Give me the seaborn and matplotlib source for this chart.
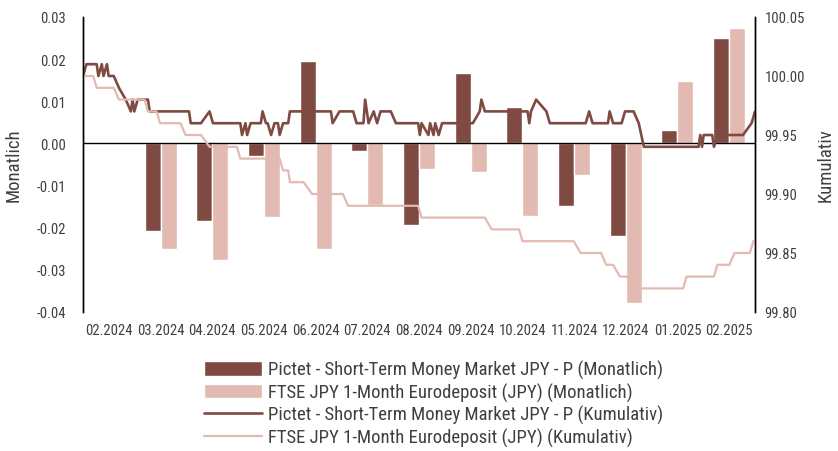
import numpy as np
import pandas as pd
import seaborn as sns
import matplotlib.pyplot as plt
from matplotlib import font_manager

# ~~~~~~~~ Data ~~~~~~~~
months = ["02.2024", "03.2024", "04.2024", "05.2024", "06.2024", "07.2024", "08.2024",
          "09.2024", "10.2024", "11.2024", "12.2024", "01.2025", "02.2025"]

fund_name = "Pictet - Short-Term Money Market JPY - P"
bench_name = "FTSE JPY 1-Month Eurodeposit (JPY)"

fund_monthly = [np.nan, -0.0208, -0.0184, -0.0031, 0.0196, -0.0017, -0.0194,
                0.0168, 0.0087, -0.0149, -0.0220, 0.0033, 0.0250]
bench_monthly = [np.nan, -0.0250, -0.0277, -0.0175, -0.0250, -0.0147, -0.0061,
                 -0.0067, -0.0173, -0.0075, -0.0378, 0.0149, 0.0274]

fund_dates = ["2024-02-01", "2024-02-03", "2024-02-09", "2024-02-10", "2024-02-12", "2024-02-13",
              "2024-02-15", "2024-02-16", "2024-02-19", "2024-02-22", "2024-02-26", "2024-02-29",
              "2024-03-01", "2024-03-02", "2024-03-04", "2024-03-10", "2024-03-11", "2024-04-03",
              "2024-04-04", "2024-04-10", "2024-04-15", "2024-04-17", "2024-05-03", "2024-05-04",
              "2024-05-06", "2024-05-07", "2024-05-09", "2024-05-15", "2024-05-16", "2024-05-18",
              "2024-05-19", "2024-05-21", "2024-05-23", "2024-05-25", "2024-05-26", "2024-05-28",
              "2024-05-31", "2024-06-01", "2024-06-25", "2024-06-26", "2024-06-30", "2024-07-08",
              "2024-07-10", "2024-07-14", "2024-07-15", "2024-07-17", "2024-07-20", "2024-07-22",
              "2024-07-24", "2024-07-30", "2024-08-02", "2024-08-15", "2024-08-16", "2024-08-17",
              "2024-08-21", "2024-08-22", "2024-08-24", "2024-08-25", "2024-08-27", "2024-08-29",
              "2024-09-16", "2024-09-20", "2024-09-21", "2024-09-23", "2024-10-18", "2024-10-19",
              "2024-10-20", "2024-10-23", "2024-10-29", "2024-10-31", "2024-11-21", "2024-11-23",
              "2024-11-25", "2024-12-04", "2024-12-05", "2024-12-07", "2024-12-12", "2024-12-14",
              "2024-12-19", "2024-12-22", "2024-12-25", "2025-01-26", "2025-01-27", "2025-01-28",
              "2025-01-29", "2025-02-03", "2025-02-04", "2025-02-06", "2025-02-21", "2025-02-26",
              "2025-02-28"]
fund_cum = [100.00, 100.01, 100.01, 100.00, 100.01, 100.00,
            100.01, 100.00, 100.00, 99.99, 99.98, 99.97,
            99.98, 99.97, 99.98, 99.98, 99.97, 99.97,
            99.96, 99.96, 99.97, 99.96, 99.96, 99.95,
            99.96, 99.95, 99.96, 99.96, 99.97, 99.96,
            99.96, 99.95, 99.96, 99.96, 99.95, 99.96,
            99.96, 99.97, 99.97, 99.96, 99.97, 99.97,
            99.96, 99.96, 99.98, 99.96, 99.97, 99.96,
            99.97, 99.97, 99.96, 99.96, 99.95, 99.96,
            99.95, 99.96, 99.95, 99.96, 99.95, 99.96,
            99.96, 99.97, 99.98, 99.97, 99.97, 99.96,
            99.97, 99.98, 99.97, 99.96, 99.96, 99.97,
            99.96, 99.96, 99.97, 99.96, 99.96, 99.97,
            99.97, 99.96, 99.94, 99.94, 99.95, 99.94,
            99.95, 99.95, 99.94, 99.95, 99.95, 99.96,
            99.97]

bench_dates = ["2024-02-01", "2024-02-07", "2024-02-09", "2024-02-19", "2024-02-22", "2024-03-08",
               "2024-03-10", "2024-03-15", "2024-03-17", "2024-03-29", "2024-04-01", "2024-04-10",
               "2024-04-15", "2024-05-01", "2024-05-03", "2024-05-26", "2024-05-28", "2024-05-31",
               "2024-06-01", "2024-06-09", "2024-06-14", "2024-07-02", "2024-07-05", "2024-08-15",
               "2024-08-17", "2024-09-23", "2024-09-27", "2024-10-13", "2024-10-15", "2024-11-14",
               "2024-11-18", "2024-11-30", "2024-12-03", "2024-12-07", "2024-12-11", "2024-12-15",
               "2024-12-21", "2025-01-17", "2025-01-19", "2025-02-04", "2025-02-06", "2025-02-13",
               "2025-02-16", "2025-02-25", "2025-02-27", "2025-02-28"]
bench_cum = [100.00, 100.00, 99.99, 99.99, 99.98, 99.98,
             99.97, 99.97, 99.96, 99.96, 99.95, 99.95,
             99.94, 99.94, 99.93, 99.93, 99.92, 99.92,
             99.91, 99.91, 99.90, 99.90, 99.89, 99.89,
             99.88, 99.88, 99.87, 99.87, 99.86, 99.86,
             99.85, 99.85, 99.84, 99.84, 99.83, 99.83,
             99.82, 99.82, 99.83, 99.83, 99.84, 99.84,
             99.85, 99.85, 99.86, 99.86]

dark = "#7e4a41"
light = "#e2bab1"
grey = "#3f3f3f"

# ~~~~~~~~ Prepare data ~~~~~~~~
bars = pd.DataFrame({
    "month": months * 2,
    "value": fund_monthly + bench_monthly,
    "series": [fund_name + " (Monatlich)"] * len(months) + [bench_name + " (Monatlich)"] * len(months),
})

start = pd.Timestamp("2024-02-01")
span = (pd.Timestamp("2025-02-28") - start).days


def to_pos(dates):
    # daily dates spread over the 13 monthly category slots
    days = (pd.to_datetime(dates) - start).days.to_numpy()
    return -0.5 + len(months) * days / span


# ~~~~~~~~ Plot ~~~~~~~~
sns.set_theme(style="white")
# pick a narrow face if one is installed
names = {f.name for f in font_manager.fontManager.ttflist}
narrow = [n for n in ("Liberation Sans Narrow", "DejaVu Sans Condensed", "Roboto Condensed",
                      "Open Sans Condensed") if n in names]
plt.rcParams["font.family"] = narrow + ["DejaVu Sans"]
plt.rcParams["font.stretch"] = "condensed"

fig = plt.figure(figsize=(8.38, 4.52), dpi=100)
ax = fig.add_axes([83 / 838, 1 - 313 / 452, (755 - 83) / 838, (313 - 18) / 452])

sns.barplot(bars, x="month", y="value", hue="series", order=months,
            palette=[dark, light], width=0.62, saturation=1, ax=ax, legend=True)
ax.axhline(0, color="black", lw=1, zorder=1)
ax.set_ylim(-0.04, 0.03)
ax.set_xlim(-0.5, len(months) - 0.5)
ax.set_yticks(np.arange(-0.04, 0.031, 0.01))
ax.set_yticklabels([f"{v:.2f}" for v in np.arange(-0.04, 0.031, 0.01)])

ax2 = ax.twinx()
sns.lineplot(x=to_pos(fund_dates), y=fund_cum, color=dark, lw=1.9, estimator=None,
             label=fund_name + " (Kumulativ)", ax=ax2)
sns.lineplot(x=to_pos(bench_dates), y=bench_cum, color=light, lw=1.6, estimator=None,
             label=bench_name + " (Kumulativ)", ax=ax2)
ax2.set_ylim(99.80, 100.05)
ax2.set_yticks([99.80, 99.85, 99.90, 99.95, 100.00, 100.05])
ax2.set_yticklabels(["99.80", "99.85", "99.90", "99.95", "100.00", "100.05"])
ax2.set_xlim(-0.5, len(months) - 0.5)

# Axes and labels
for a in (ax, ax2):
    for side in ("top", "bottom"):
        a.spines[side].set_visible(False)
    for side in ("left", "right"):
        a.spines[side].set_color("black")
        a.spines[side].set_linewidth(1)
    a.tick_params(length=0, labelsize=10.5, labelcolor=grey)
    a.grid(False)
ax.tick_params(axis="x", pad=8)
ax.tick_params(axis="y", pad=12)
ax2.tick_params(axis="y", pad=7)
ax.set_xlabel("")
ax.set_ylabel("Monatlich", fontsize=13.5, color=grey, labelpad=10)
ax2.set_ylabel("Kumulativ", fontsize=13.5, color=grey, labelpad=8)

# Legend below the chart
h1, l1 = ax.get_legend_handles_labels()
h2, l2 = ax2.get_legend_handles_labels()
ax.get_legend().remove()
ax2.get_legend().remove()
leg = fig.legend(h1 + h2, l1 + l2, loc="upper left", bbox_to_anchor=(204 / 838, 1 - 361 / 452),
                 frameon=False, fontsize=13.5, handlelength=3.1, handleheight=0.8,
                 handletextpad=0.3, labelspacing=0.18, borderpad=0, borderaxespad=0)
for t in leg.get_texts():
    t.set_color(grey)

plt.savefig("out.png", dpi=100)
